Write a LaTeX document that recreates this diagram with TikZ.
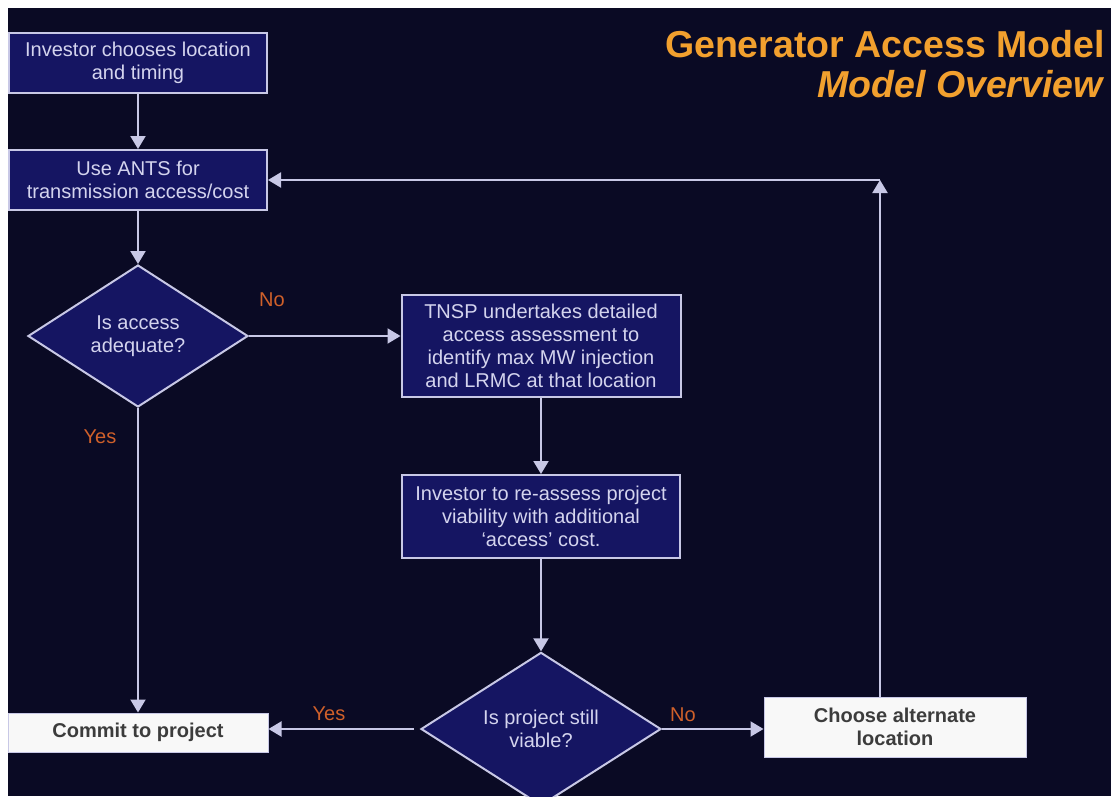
\documentclass[tikz,border=0pt]{standalone}
\usepackage{fontspec}
\setmainfont{Liberation Sans}
\usetikzlibrary{shapes.geometric,arrows.meta,calc}
\definecolor{bg}{HTML}{0A0A24}
\definecolor{boxfill}{HTML}{151562}
\definecolor{edge}{HTML}{C8C8E6}
\definecolor{txt}{HTML}{D4D4EE}
\definecolor{lab}{HTML}{D0602A}
\definecolor{ttl}{HTML}{F2A02E}
\definecolor{wbox}{HTML}{F8F8F8}
\definecolor{wtxt}{HTML}{3C3C3C}
\begin{document}
\begin{tikzpicture}[x=1pt,y=-1pt,
  navybox/.style={draw=edge, line width=2pt, fill=boxfill, text=txt, align=center,
    font=\fontsize{20}{23}\selectfont, inner sep=0pt},
  whitebox/.style={draw=edge, line width=1pt, fill=wbox, text=wtxt, align=center,
    font=\bfseries\fontsize{20}{23}\selectfont, inner sep=0pt},
  decision/.style={diamond, draw=edge, line width=2pt, fill=boxfill, text=txt, align=center,
    font=\fontsize{20}{23}\selectfont, inner sep=0pt},
  flow/.style={draw=edge, line width=2pt, -{Triangle[width=15pt,length=13pt]}},
  lbl/.style={text=lab, font=\fontsize{20}{23}\selectfont, inner sep=0pt},
  ttlstyle/.style={text=ttl, anchor=base east, inner sep=0pt}]
\useasboundingbox (0,0) rectangle (1111,796);
\fill[white] (0,0) rectangle (1111,796);
\fill[bg] (8,8) rectangle (1111,796);

% title
\node[ttlstyle, font=\bfseries\fontsize{37.5}{40}\selectfont] (t1) at (1105,57) {Generator Access Model};
\node[ttlstyle, font=\bfseries\itshape\fontsize{37.5}{40}\selectfont] (t2) at (1103,97) {Model Overview};

% boxes
\node[navybox, minimum width=258pt, minimum height=60pt] (b1) at (138,63)
  {Investor chooses location\\and timing};
\node[navybox, minimum width=258pt, minimum height=60pt] (b2) at (138,180)
  {Use ANTS for\\transmission access/cost};
\node[decision, minimum width=220pt, minimum height=142pt] (d1) at (138,336)
  {Is access\\adequate?};
\node[navybox, minimum width=279pt, minimum height=102pt] (tnsp) at (541,346)
  {TNSP undertakes detailed\\access assessment to\\identify max MW injection\\and LRMC at that location};
\node[navybox, minimum width=278pt, minimum height=83pt] (b4) at (541,516.5)
  {Investor to re-assess project\\viability with additional\\‘access’ cost.};
\node[decision, minimum width=240pt, minimum height=142pt] (d2) at (541,729)
  {Is project still\\viable?};
\node[whitebox, minimum width=260pt, minimum height=39pt] (commit) at (138,732.5)
  {Commit to project};
\node[whitebox, minimum width=262pt, minimum height=60pt] (choose) at (895,727)
  {Choose alternate\\location};

% connectors
\draw[flow] (b1) -- (b2);
\draw[flow] (b2) -- (d1);
\draw[flow] (d1.east) -- (d1.east -| tnsp.west);
\draw[flow] (tnsp) -- (b4);
\draw[flow] (b4) -- (d2);
\draw[flow] (d1) -- (commit);
\draw[flow, shorten <=6pt] (d2.west) -- (d2.west -| commit.east);
\draw[flow] (d2.east) -- (d2.east -| choose.west);
\coordinate (corner) at (880,180);
\draw[flow] (corner |- choose.north) -- (corner);
\draw[flow] (corner) -- (corner -| b2.east);

% labels
\node[lbl] (lno1) at (272,300) {No};
\node[lbl] (lyes1) at (100,437) {Yes};
\node[lbl] (lyes2) at (329,714) {Yes};
\node[lbl] (lno2) at (683,715) {No};
\end{tikzpicture}
\end{document}
